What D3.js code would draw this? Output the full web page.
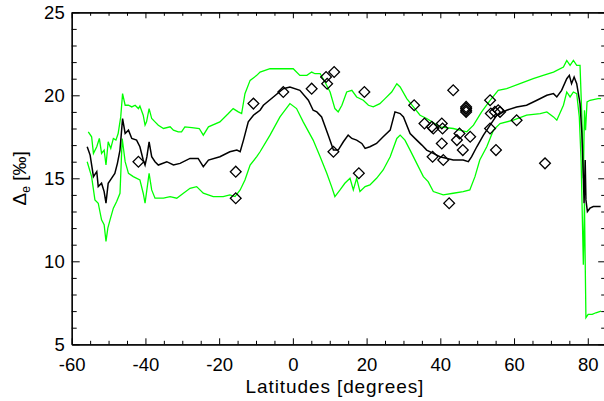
<!DOCTYPE html>
<html>
<head>
<meta charset="utf-8">
<script src="https://cdn.jsdelivr.net/npm/d3@7/dist/d3.min.js"></script>
<style>
  html, body { margin: 0; padding: 0; background: #fff; }
  svg { display: block; }
  text { font-family: "Liberation Sans", Arial, Helvetica, sans-serif; fill: #000; }
</style>
</head>
<body>
<svg id="chart" width="604" height="401"></svg>
<script>
// Zonal mean of Delta_e (black) with its upper/lower envelope (green), [lat, value]
const meanLine = [[-55.8,16.9],[-55.0,16.4],[-54.1,15.1],[-53.2,15.4],[-52.8,14.5],[-51.9,14.7],[-51.2,14.2],[-50.7,13.5],[-50.1,14.7],[-49.2,15.0],[-48.3,15.3],[-47.6,15.9],[-46.9,16.7],[-46.2,18.6],[-45.5,17.7],[-44.6,17.9],[-43.7,17.4],[-42.4,17.3],[-41.5,16.9],[-40.6,16.1],[-40.1,15.8],[-39.6,16.3],[-39.0,17.2],[-38.3,16.3],[-37.4,16.0],[-36.5,15.8],[-34.2,16.0],[-32.4,15.8],[-30.6,15.9],[-27.9,16.2],[-25.7,16.2],[-24.3,15.7],[-22.9,16.1],[-19.8,16.3],[-17.1,16.6],[-15.2,16.7],[-14.3,16.6],[-13.4,17.3],[-12.1,18.4],[-10.7,18.8],[-8.9,19.1],[-8.0,19.4],[-5.3,19.9],[-2.6,20.4],[-0.8,20.5],[1.9,20.3],[4.2,19.7],[5.5,19.1],[6.5,19.0],[7.8,18.7],[9.6,17.6],[11.0,16.7],[12.3,16.7],[13.7,17.2],[15.0,17.6],[16.0,17.4],[17.3,17.3],[18.7,17.1],[19.6,16.8],[20.9,16.9],[22.7,17.1],[24.5,17.5],[26.4,17.9],[27.7,19.0],[29.1,18.9],[30.0,18.7],[31.8,17.7],[33.6,17.3],[35.0,17.0],[36.3,16.7],[38.1,16.5],[39.9,16.3],[43.5,16.1],[46.2,16.1],[47.6,16.0],[48.5,16.3],[49.9,16.9],[51.7,17.6],[53.5,18.2],[55.3,18.8],[58.0,19.1],[60.7,19.3],[63.4,19.4],[66.2,19.7],[68.9,20.0],[70.7,20.1],[71.6,19.9],[72.9,20.3],[74.3,21.0],[75.0,21.2],[75.6,20.7],[76.3,21.1],[77.0,20.7],[77.9,19.5],[78.4,17.7],[78.8,15.1],[79.0,13.5],[79.3,16.1],[79.5,13.7],[79.9,13.0],[80.6,13.2],[81.5,13.3],[82.9,13.3],[83.5,13.3]];

const upperLine = [[-55.5,17.8],[-54.6,17.5],[-54.1,16.5],[-53.2,16.9],[-52.5,17.4],[-51.9,16.5],[-51.2,16.7],[-50.7,15.8],[-50.1,17.2],[-49.4,16.8],[-48.7,17.4],[-48.0,17.3],[-47.4,17.7],[-46.7,18.7],[-46.2,20.1],[-45.5,19.4],[-44.6,19.4],[-43.7,19.3],[-42.8,19.4],[-41.9,19.2],[-41.5,19.35],[-40.6,18.8],[-40.1,18.2],[-39.7,18.4],[-39.0,19.2],[-38.3,18.6],[-37.4,18.4],[-36.5,18.2],[-35.1,18.0],[-33.3,18.1],[-32.4,17.9],[-31.1,17.8],[-30.2,17.8],[-29.3,18.1],[-27.4,18.05],[-25.4,18.0],[-24.3,17.6],[-22.9,18.1],[-19.8,18.4],[-17.5,18.9],[-16.2,19.2],[-14.8,19.0],[-13.9,18.9],[-13.0,20.1],[-11.6,20.9],[-9.8,21.2],[-8.9,21.4],[-6.2,21.6],[-2.6,21.6],[0.1,21.6],[1.9,21.2],[3.8,21.2],[5.1,21.4],[6.0,21.3],[7.4,21.3],[8.7,20.8],[10.1,20.2],[11.4,19.2],[12.3,19.0],[13.3,19.4],[14.6,20.2],[16.0,20.3],[17.3,19.9],[19.1,19.7],[20.5,19.4],[21.8,19.3],[23.6,19.5],[25.0,19.8],[26.8,20.2],[28.2,20.7],[29.1,20.5],[30.9,19.8],[32.7,19.3],[34.5,18.8],[36.3,18.6],[39.9,18.1],[43.5,18.0],[47.2,17.8],[49.0,18.2],[51.2,19.0],[53.5,19.7],[55.7,20.3],[58.0,20.4],[61.6,20.7],[65.2,21.0],[67.9,21.2],[70.7,21.4],[73.4,21.7],[74.3,22.1],[75.2,21.8],[76.1,22.1],[77.0,21.8],[77.9,21.8],[78.4,18.7],[78.8,15.0],[79.1,19.1],[79.4,17.9],[79.8,19.6],[80.6,19.7],[82.8,19.8],[83.6,19.8]];

const lowerLine = [[-55.8,16.0],[-54.6,15.1],[-53.7,13.7],[-52.8,13.5],[-51.9,12.5],[-51.2,12.2],[-50.7,11.2],[-50.2,12.0],[-49.6,12.5],[-48.7,13.2],[-47.8,13.6],[-46.9,14.1],[-46.3,17.4],[-45.5,16.0],[-44.6,15.3],[-43.3,15.1],[-41.5,14.9],[-40.6,14.1],[-40.1,13.5],[-39.0,15.3],[-38.3,14.3],[-37.4,13.8],[-35.1,13.8],[-33.3,13.9],[-31.5,13.8],[-29.7,14.1],[-27.9,14.4],[-26.1,14.5],[-24.3,14.1],[-21.6,13.9],[-18.9,13.9],[-17.1,14.0],[-15.7,13.9],[-14.3,14.3],[-13.0,14.9],[-11.6,15.8],[-9.8,16.3],[-8.9,16.6],[-6.2,17.6],[-3.5,18.7],[-0.8,19.5],[1.0,19.2],[2.8,18.4],[5.5,17.3],[7.4,16.3],[9.2,15.3],[10.5,14.5],[11.4,13.9],[12.8,14.3],[14.1,14.7],[15.5,15.0],[16.4,14.3],[17.3,15.0],[18.2,14.2],[19.6,14.5],[20.9,14.6],[22.7,15.0],[24.5,15.5],[26.4,16.3],[28.2,17.4],[29.1,17.6],[30.4,17.3],[31.8,16.7],[33.6,15.9],[35.4,15.1],[36.7,14.8],[38.1,14.2],[40.8,14.0],[43.5,14.1],[46.2,14.2],[48.0,14.3],[49.4,15.1],[50.7,16.1],[52.6,16.9],[54.4,17.9],[56.2,18.3],[59.8,18.5],[63.4,18.8],[67.1,18.9],[68.9,19.0],[70.7,18.7],[71.6,18.5],[73.4,19.4],[74.3,20.2],[75.2,19.9],[76.1,20.2],[77.0,20.1],[77.7,18.7],[78.2,16.0],[78.8,9.8],[79.1,13.5],[79.5,6.6],[80.1,6.8],[81.2,6.8],[82.2,6.9],[83.6,7.0]];

// Individual station estimates [lat, value]
const stations = [[-41.9,16.0],[-15.5,15.4],[-15.5,13.8],[-10.7,19.5],[-2.6,20.2],[5.1,20.4],[9.0,21.1],[9.3,20.7],[11.2,21.4],[11.0,16.6],[17.9,15.3],[19.4,20.2],[32.9,19.4],[35.7,18.3],[37.7,18.1],[38.1,18.0],[40.4,18.3],[40.6,18.0],[43.5,20.3],[47.0,19.3],[47.0,19.2],[47.0,19.1],[47.0,19.0],[45.2,17.7],[48.1,17.5],[44.5,17.3],[40.4,17.1],[46.1,16.7],[37.9,16.3],[40.8,16.1],[53.5,19.7],[53.7,18.9],[54.8,19.0],[55.7,19.1],[56.2,19.0],[53.5,18.0],[60.7,18.5],[55.1,16.7],[68.4,15.9],[42.4,13.5]];

const xMajor = [-60, -40, -20, 0, 20, 40, 60, 80];
const xMinor = d3.range(-60, 86, 5).filter(v => v % 20 !== 0);
const yMajor = [5, 10, 15, 20, 25];
const yMinor = d3.range(5, 26, 1).filter(v => v % 5 !== 0);

const svg = d3.select("#chart");
const box = { left: 71.7, right: 606.2, top: 12.3, bottom: 344.3 };

const x = d3.scaleLinear().domain([-60, 85]).range([box.left, box.right]);
const y = d3.scaleLinear().domain([5, 25]).range([box.bottom, box.top]);

svg.append("defs").append("clipPath").attr("id", "plotClip")
  .append("rect").attr("x", box.left).attr("y", box.top)
  .attr("width", box.right - box.left).attr("height", box.bottom - box.top);

const plot = svg.append("g").attr("clip-path", "url(#plotClip)");
const line = d3.line().x(d => x(d[0])).y(d => y(d[1]));

plot.append("path").datum(upperLine).attr("d", line)
  .attr("fill", "none").attr("stroke", "#00ff00").attr("stroke-width", 1.3);
plot.append("path").datum(lowerLine).attr("d", line)
  .attr("fill", "none").attr("stroke", "#00ff00").attr("stroke-width", 1.3);
plot.append("path").datum(meanLine).attr("d", line)
  .attr("fill", "none").attr("stroke", "#000").attr("stroke-width", 1.5);

const diamond = d3.symbol(d3.symbolSquare, 58)();
plot.selectAll("path.station").data(stations).join("path")
  .attr("class", "station")
  .attr("d", diamond)
  .attr("transform", d => `translate(${x(d[0])},${y(d[1])}) rotate(45)`)
  .attr("fill", "none").attr("stroke", "#000").attr("stroke-width", 1.3);

// Axes: ticks point inward on all four sides
const plain = d => String(d);
function styleAxis(g) {
  g.selectAll(".domain").attr("stroke", "#000").attr("stroke-width", 1.2);
  g.selectAll(".tick line").attr("stroke", "#000").attr("stroke-width", 1);
  g.selectAll("text").attr("font-size", 18.5).attr("font-family", '"Liberation Sans", Arial, sans-serif').attr("fill", "#000");
}

svg.append("g").attr("transform", `translate(0,${box.bottom})`)
  .call(d3.axisBottom(x).tickValues(xMajor).tickSizeInner(-6).tickSizeOuter(0).tickPadding(14).tickFormat(plain))
  .call(styleAxis);
svg.append("g").attr("transform", `translate(0,${box.bottom})`)
  .call(d3.axisBottom(x).tickValues(xMinor).tickSizeInner(-3.5).tickSizeOuter(0).tickFormat(""))
  .call(styleAxis);
svg.append("g").attr("transform", `translate(0,${box.top})`)
  .call(d3.axisTop(x).tickValues(xMajor).tickSizeInner(-6).tickSizeOuter(0).tickFormat(""))
  .call(styleAxis);
svg.append("g").attr("transform", `translate(0,${box.top})`)
  .call(d3.axisTop(x).tickValues(xMinor).tickSizeInner(-3.5).tickSizeOuter(0).tickFormat(""))
  .call(styleAxis);

svg.append("g").attr("transform", `translate(${box.left},0)`)
  .call(d3.axisLeft(y).tickValues(yMajor).tickSizeInner(-8).tickSizeOuter(0).tickPadding(7).tickFormat(plain))
  .call(styleAxis);
svg.append("g").attr("transform", `translate(${box.left},0)`)
  .call(d3.axisLeft(y).tickValues(yMinor).tickSizeInner(-5).tickSizeOuter(0).tickFormat(""))
  .call(styleAxis);
svg.append("g").attr("transform", `translate(${box.right},0)`)
  .call(d3.axisRight(y).tickValues(yMajor).tickSizeInner(-8).tickSizeOuter(0).tickFormat(""))
  .call(styleAxis);
svg.append("g").attr("transform", `translate(${box.right},0)`)
  .call(d3.axisRight(y).tickValues(yMinor).tickSizeInner(-5).tickSizeOuter(0).tickFormat(""))
  .call(styleAxis);

// Axis titles
svg.append("text")
  .attr("x", (box.left + box.right) / 2 - 4).attr("y", 393)
  .attr("text-anchor", "middle").attr("font-size", 19)
  .attr("letter-spacing", 0.9)
  .text("Latitudes [degrees]");

const yTitle = svg.append("text")
  .attr("transform", `translate(26,${(box.top + box.bottom) / 2}) rotate(-90)`)
  .attr("text-anchor", "middle").attr("font-size", 19);
yTitle.append("tspan").text("Δ");
yTitle.append("tspan").attr("font-size", 12).attr("dy", 4).text("e");
yTitle.append("tspan").attr("dy", -4).text(" [‰]");
</script>
</body>
</html>
